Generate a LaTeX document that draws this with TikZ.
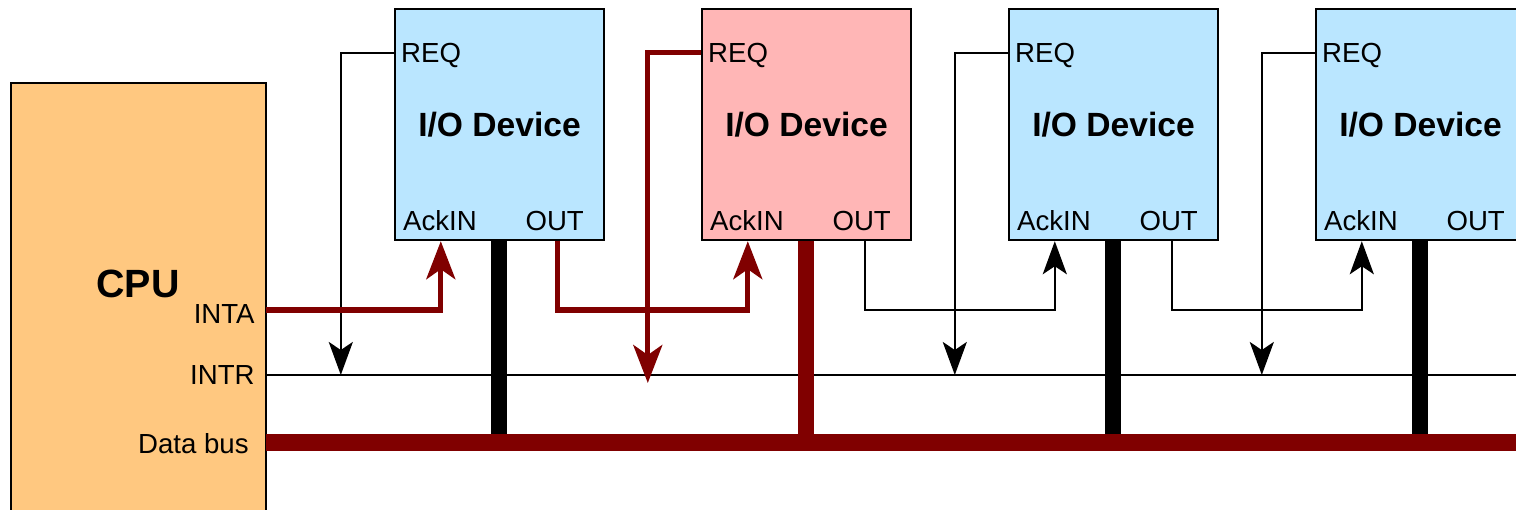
\documentclass[tikz,border=0pt]{standalone}
\usepackage{fontspec}
\setmainfont{Liberation Sans}
\usetikzlibrary{arrows.meta}
\definecolor{ioBlue}{HTML}{BAE6FF}
\definecolor{ioPink}{HTML}{FFB6B6}
\definecolor{cpuOrange}{HTML}{FFC880}
\definecolor{ackRed}{HTML}{800000}

\begin{document}
\begin{tikzpicture}[
  x=0.5pt, y=-0.5pt,
  cpubox/.style={draw=black, line width=1.2pt, fill=cpuOrange, anchor=north west,
                 minimum width=127.5pt, minimum height=240pt, inner sep=0pt},
  iobox/.style={draw=black, line width=1.2pt, minimum width=104.5pt, minimum height=115.5pt,
                inner sep=0pt, font=\fontsize{16.8}{20}\selectfont\bfseries},
  pinlbl/.style={inner sep=0pt, font=\fontsize{13.8}{16}\selectfont},
  wire/.style={line width=1.3pt, draw=black},
  redwire/.style={line width=2.6pt, draw=ackRed},
  tap/.style={line width=8pt, draw=black},
  bus/.style={line width=8.5pt, draw=ackRed},
  tipB/.style={-{Stealth[length=16.5pt, width=12pt, inset=4pt]}},
  tipR/.style={-{Stealth[length=19pt, width=14.5pt, inset=5pt]}},
]
\useasboundingbox (0,0) rectangle (1516,509);
\clip (0,0) rectangle (1516,509);

% ── CPU and its three lines ──────────────────────────────────────────────────
\node[cpubox] (cpu) at (10,82) {};
\node[font=\fontsize{19.7}{24}\selectfont\bfseries, anchor=base, inner sep=0pt] (cpulbl) at (138,297) {CPU};
\node[pinlbl, anchor=base east] (intalbl) at (255,323) {INTA};
\node[pinlbl, anchor=base east] (intrlbl) at (255,384) {INTR};
\node[pinlbl, anchor=base east] (buslbl)  at (249,453) {Data bus};

\coordinate (inta)    at (266,310);
\coordinate (intr)    at (266,375);
\coordinate (dbus)    at (266,442);
\coordinate (intrend) at (1530,375);
\coordinate (dbusend) at (1530,442);

% ── I/O devices, daisy chained ───────────────────────────────────────────────
\foreach \i/\col in {1/ioBlue,2/ioPink,3/ioBlue,4/ioBlue}{
  \node[iobox, fill=\col] (dev\i) at ({499.5+307*(\i-1)},124.5) {I/O Device};
  \coordinate (req\i)  at ([yshift=-22.5pt]dev\i.north west);
  \coordinate (reqx\i) at ([xshift=-26.5pt]req\i);
  \coordinate (ack\i)  at ([xshift=23.5pt]dev\i.south west);
  \coordinate (tap\i)  at ([xshift=52.5pt]dev\i.south west);
  \coordinate (out\i)  at ([xshift=82pt]dev\i.south west);
  \node[pinlbl, anchor=base west] (reqlbl\i) at ([shift={(3.5pt,-4.6pt)}]req\i) {REQ};
  \node[pinlbl, anchor=base west] (acklbl\i) at ([shift={(4.5pt,5.5pt)}]dev\i.south west) {AckIN};
  \node[pinlbl, anchor=base east] (outlbl\i) at ([shift={(-10.5pt,5.5pt)}]dev\i.south east) {OUT};
}

% ── Buses and taps ───────────────────────────────────────────────────────────
\draw[wire] (intr) -- (intrend);
\foreach \i in {1,3,4}{ \draw[tap] (tap\i) -- (tap\i |- dbus); }
\draw[tap, draw=ackRed] (tap2) -- (tap2 |- dbus);
\draw[bus] (dbus) -- (dbusend);

% ── Interrupt requests ───────────────────────────────────────────────────────
\foreach \i in {1,3,4}{ \draw[wire, tipB] (req\i) -- (reqx\i) -- (reqx\i |- intr); }
\draw[redwire, tipR, shorten >=-4pt] (req2) -- (reqx2) -- (reqx2 |- intr);

% ── Acknowledge chain (INTA -> AckIN, OUT -> next AckIN) ─────────────────────
\draw[redwire, tipR] (inta) -| (ack1);
\draw[redwire, tipR] (out1) -- (out1 |- inta) -| (ack2);
\draw[wire, tipB] (out2) -- (out2 |- inta) -| (ack3);
\draw[wire, tipB] (out3) -- (out3 |- inta) -| (ack4);

\end{tikzpicture}
\end{document}
